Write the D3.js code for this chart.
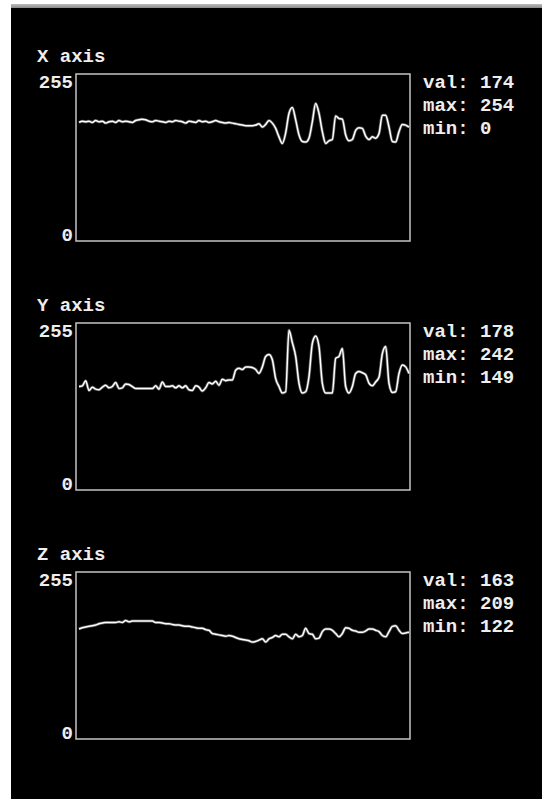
<!DOCTYPE html>
<html>
<head>
<meta charset="utf-8">
<script src="https://cdn.jsdelivr.net/npm/d3@7/dist/d3.min.js"></script>
<style>
html,body{margin:0;padding:0;background:#fff;}
svg{display:block;}
</style>
</head>
<body>
<svg id="chart" width="542" height="799"></svg>
<script>
const panelNames = ["X axis", "Y axis", "Z axis"];
const yTickLabels = ["0", "255"];
const statLabels = ["val", "max", "min"];

const seriesX = [181,183,182,183,181,184,182,183,180,182,183,181,184,182,183,182,181,184,185,186,
  185,183,182,184,183,182,181,183,182,184,183,182,180,183,182,181,184,182,183,181,
  182,184,182,181,180,181,180,179,178,177,176,176,176,177,179,174,178,184,180,172,
  159,149,165,195,204,185,162,152,151,157,182,210,195,167,149,153,155,191,187,186,
  162,153,155,169,173,172,160,155,159,157,164,192,192,174,152,151,167,178,177,174];
const seriesY = [158,159,167,152,157,154,153,157,160,156,158,164,155,156,162,161,158,155,155,155,
  155,155,155,159,154,165,158,158,159,156,159,156,159,153,152,159,157,151,156,164,
  162,166,160,169,167,168,168,183,186,184,188,188,187,184,178,188,204,207,199,170,
  158,148,150,244,225,204,163,148,150,173,224,235,219,163,148,148,148,201,204,216,
  158,148,158,178,181,179,176,163,159,165,172,208,219,163,149,150,178,191,188,178];
const seriesZ = [168,170,171,172,173,174,176,177,178,178,178,178,179,178,181,179,180,180,180,180,
  180,180,180,178,178,177,176,176,175,174,174,173,172,172,171,170,169,169,167,166,
  161,160,159,158,157,158,157,155,153,152,151,150,148,149,151,153,148,153,155,158,
  156,160,160,156,153,160,156,158,169,161,160,153,154,164,168,168,166,161,156,161,
  170,169,166,165,163,163,165,168,168,166,164,158,156,164,172,173,166,161,162,163];
const series = [seriesX, seriesY, seriesZ];
const statVal = [174, 178, 163];
const statMax = [254, 242, 209];
const statMin = [0, 149, 122];

const svg = d3.select("#chart");
const FONT = "'Liberation Mono', 'DejaVu Sans Mono', monospace";
const FS = 19;

// window background
svg.append("rect").attr("x", 11).attr("y", 4).attr("width", 531).attr("height", 795).attr("fill", "#000");
const grad = svg.append("defs").append("linearGradient").attr("id", "bar").attr("x1", 0).attr("y1", 0).attr("x2", 0).attr("y2", 1);
grad.append("stop").attr("offset", "0%").attr("stop-color", "#bdbdbd");
grad.append("stop").attr("offset", "100%").attr("stop-color", "#8a8a8a");
svg.append("rect").attr("x", 11).attr("y", 4).attr("width", 531).attr("height", 4).attr("fill", "url(#bar)");

const boxLeft = 76, boxRight = 410, boxH = 167, firstTop = 74, step = 249;

series.forEach((data, k) => {
  const top = firstTop + k * step;
  const bottom = top + boxH;
  const g = svg.append("g");
  const x = d3.scaleLinear().domain([0, data.length - 1]).range([boxLeft + 3, boxRight - 1]);
  const y = d3.scaleLinear().domain([0, 255]).range([bottom, top]);

  g.append("text").attr("x", 37).attr("y", top - 12)
    .attr("font-family", FONT).attr("font-weight", "bold").attr("font-size", FS)
    .attr("fill", "#eee").text(panelNames[k]);

  g.append("text").attr("x", 73).attr("y", y(255) + 14).attr("text-anchor", "end")
    .attr("font-family", FONT).attr("font-weight", "bold").attr("font-size", FS)
    .attr("fill", "#eee").text(yTickLabels[1]);
  g.append("text").attr("x", 73).attr("y", y(0)).attr("text-anchor", "end")
    .attr("font-family", FONT).attr("font-weight", "bold").attr("font-size", FS)
    .attr("fill", "#eee").text(yTickLabels[0]);

  g.append("rect").attr("x", boxLeft).attr("y", top).attr("width", boxRight - boxLeft).attr("height", boxH)
    .attr("fill", "none").attr("stroke", "#c4c4c4").attr("stroke-width", 1.5);

  const line = d3.line().x((d, i) => x(i)).y(d => y(d)).curve(d3.curveMonotoneX);
  g.append("path").datum(data).attr("d", line)
    .attr("fill", "none").attr("stroke", "#aaa").attr("stroke-width", 3).attr("opacity", 0.5);
  g.append("path").datum(data).attr("d", line)
    .attr("fill", "none").attr("stroke", "#fff").attr("stroke-width", 1.5);

  const stats = [statVal[k], statMax[k], statMin[k]];
  statLabels.forEach((lab, j) => {
    g.append("text").attr("x", 423).attr("y", top + 14 + j * 23.2)
      .attr("font-family", FONT).attr("font-weight", "bold").attr("font-size", FS)
      .attr("fill", "#eee").attr("xml:space", "preserve").text(lab + ": " + stats[j]);
  });
});
</script>
</body>
</html>
